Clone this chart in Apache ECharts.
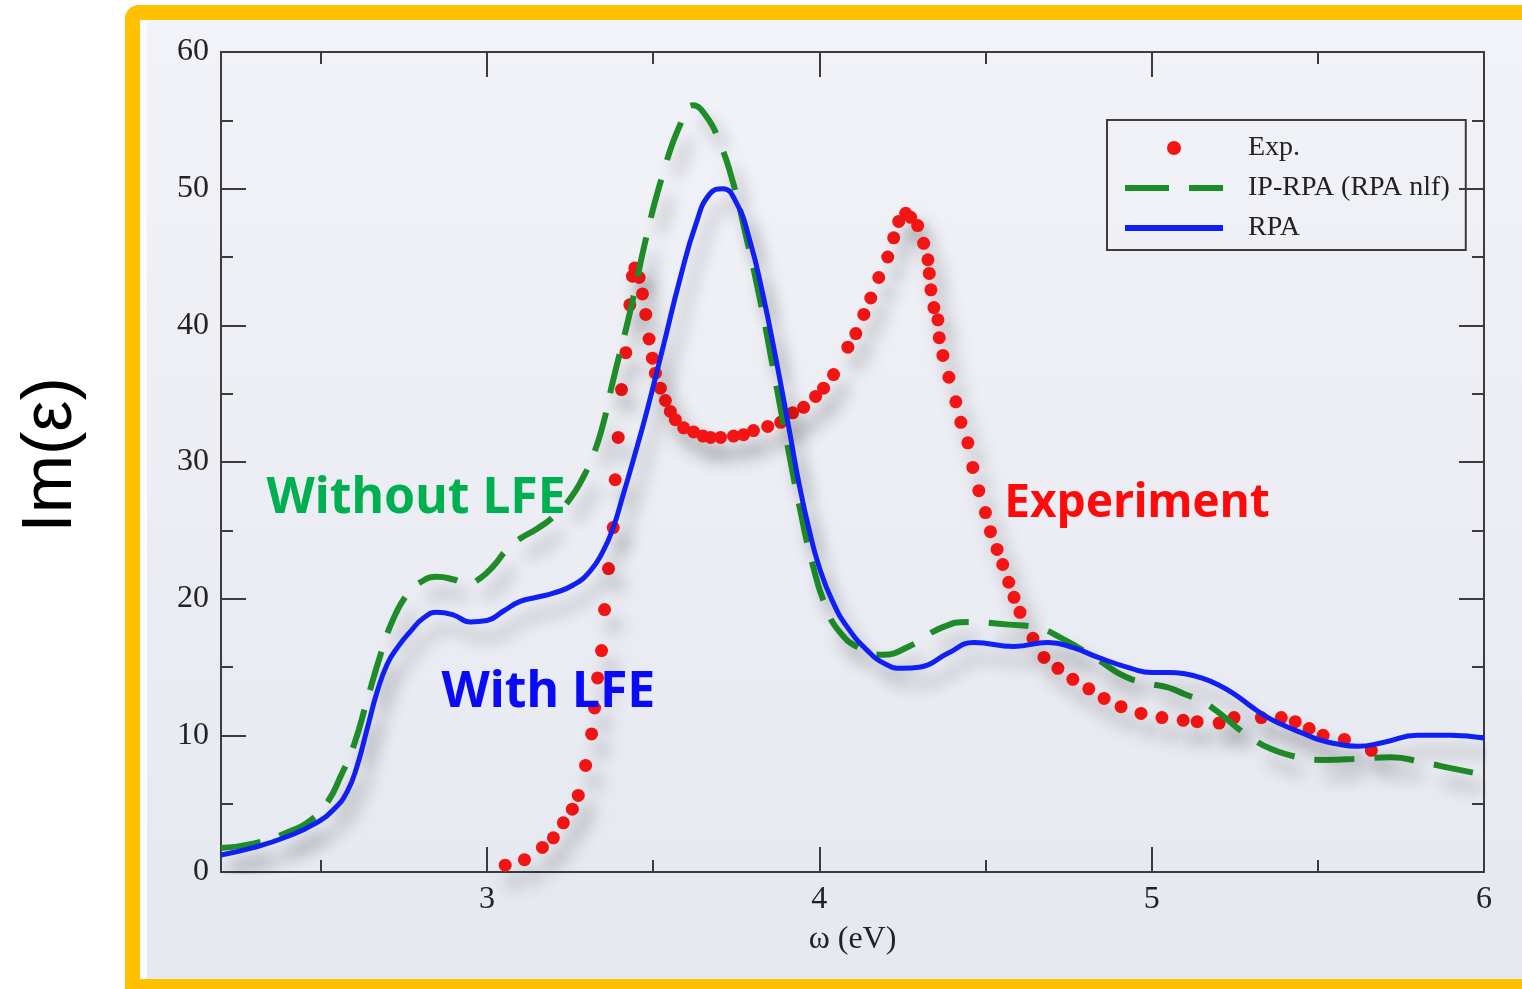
<!DOCTYPE html>
<html>
<head>
<meta charset="utf-8">
<script src="https://cdn.jsdelivr.net/npm/echarts@6.0.0/dist/echarts.min.js"></script>
<style>
  html, body { margin: 0; padding: 0; background: #ffffff; }
  #chart { width: 1522px; height: 989px; }
</style>
</head>
<body>
<div id="chart"></div>
<script>
// Imaginary part of the dielectric function vs photon energy

// RPA (with local-field effects)
const rpaX = [2.20, 2.30, 2.40, 2.48, 2.54, 2.58, 2.61, 2.64, 2.67, 2.70, 2.73, 2.77, 2.81, 2.85, 2.90, 2.95, 3.00, 3.05, 3.10, 3.15, 3.20, 3.26, 3.31, 3.35, 3.38, 3.41, 3.44, 3.48, 3.53, 3.58, 3.63, 3.67, 3.71, 3.75, 3.79, 3.83, 3.87, 3.91, 3.94, 3.97, 4.00, 4.04, 4.085, 4.145, 4.20, 4.25, 4.305, 4.387, 4.465, 4.586, 4.688, 4.766, 4.839, 4.938, 5.00, 5.05, 5.10, 5.15, 5.20, 5.25, 5.30, 5.35, 5.40, 5.45, 5.50, 5.55, 5.62, 5.70, 5.80, 5.90, 6.00];
const rpaY = [1.25, 1.8, 2.6, 3.5, 4.6, 5.9, 7.8, 10.5, 13.2, 15.2, 16.4, 17.6, 18.6, 19.0, 18.8, 18.3, 18.4, 19.1, 19.8, 20.1, 20.4, 21.0, 22.0, 23.5, 25.2, 27.6, 30.1, 33.6, 38.4, 43.3, 47.5, 49.6, 50.0, 49.0, 46.3, 42.3, 37.5, 32.3, 28.3, 25.0, 22.3, 19.8, 17.9, 16.2, 15.2, 14.9, 15.0, 16.0, 16.8, 16.5, 16.8, 16.4, 15.7, 14.9, 14.6, 14.6, 14.5, 14.2, 13.7, 13.0, 12.1, 11.3, 10.7, 10.2, 9.7, 9.4, 9.2, 9.5, 10.0, 10.0, 9.8];

// IP-RPA (no local fields)
const ipX = [2.20, 2.30, 2.40, 2.47, 2.52, 2.56, 2.60, 2.64, 2.68, 2.72, 2.76, 2.80, 2.85, 2.90, 2.94, 2.98, 3.02, 3.06, 3.10, 3.15, 3.20, 3.25, 3.29, 3.32, 3.35, 3.38, 3.43, 3.48, 3.53, 3.58, 3.62, 3.66, 3.70, 3.74, 3.78, 3.82, 3.86, 3.90, 3.94, 3.98, 4.02, 4.06, 4.12, 4.19, 4.27, 4.37, 4.45, 4.57, 4.65, 4.73, 4.84, 4.92, 4.99, 5.05, 5.10, 5.15, 5.20, 5.25, 5.30, 5.36, 5.44, 5.52, 5.63, 5.72, 5.82, 5.90, 6.00];
const ipY = [1.75, 2.1, 2.9, 3.8, 5.1, 7.0, 9.3, 12.6, 15.9, 18.6, 20.3, 21.2, 21.6, 21.4, 21.1, 21.5, 22.4, 23.6, 24.4, 25.1, 26.0, 27.3, 28.9, 30.5, 32.8, 36.0, 40.9, 46.5, 51.1, 54.6, 56.1, 55.3, 53.4, 50.5, 46.5, 42.1, 37.0, 31.8, 26.8, 22.5, 19.4, 17.6, 16.4, 15.9, 16.5, 17.9, 18.3, 18.1, 17.9, 17.1, 15.5, 14.3, 13.8, 13.5, 13.0, 12.5, 11.7, 10.7, 9.8, 9.0, 8.4, 8.2, 8.3, 8.4, 8.0, 7.6, 7.1];

// Experimental spectrum
const expX = [3.055, 3.113, 3.167, 3.200, 3.230, 3.257, 3.275, 3.297, 3.315, 3.324, 3.333, 3.345, 3.354, 3.366, 3.380, 3.386, 3.395, 3.405, 3.418, 3.430, 3.438, 3.445, 3.458, 3.468, 3.478, 3.488, 3.498, 3.507, 3.522, 3.537, 3.552, 3.567, 3.592, 3.622, 3.650, 3.673, 3.703, 3.742, 3.772, 3.802, 3.845, 3.884, 3.920, 3.953, 3.989, 4.013, 4.043, 4.086, 4.110, 4.134, 4.155, 4.179, 4.206, 4.224, 4.239, 4.260, 4.275, 4.296, 4.314, 4.327, 4.331, 4.336, 4.345, 4.357, 4.361, 4.372, 4.390, 4.411, 4.426, 4.447, 4.462, 4.480, 4.500, 4.515, 4.535, 4.552, 4.570, 4.586, 4.604, 4.643, 4.676, 4.718, 4.763, 4.811, 4.857, 4.908, 4.968, 5.031, 5.095, 5.137, 5.203, 5.248, 5.330, 5.390, 5.432, 5.474, 5.516, 5.580, 5.661];
const expY = [0.5, 0.9, 1.8, 2.5, 3.6, 4.6, 5.6, 7.8, 10.1, 12.0, 14.2, 16.2, 19.2, 22.2, 25.2, 28.7, 31.8, 35.3, 38.0, 41.5, 43.6, 44.2, 43.5, 42.3, 40.8, 39.0, 37.6, 36.5, 35.4, 34.5, 33.7, 33.1, 32.5, 32.2, 31.9, 31.8, 31.8, 31.9, 32.0, 32.3, 32.6, 32.9, 33.6, 34.0, 34.8, 35.4, 36.4, 38.4, 39.4, 40.8, 42.0, 43.5, 45.0, 46.4, 47.6, 48.2, 47.9, 47.3, 46.0, 44.8, 43.8, 42.6, 41.3, 40.4, 39.1, 37.8, 36.2, 34.4, 32.9, 31.4, 29.6, 27.9, 26.3, 24.9, 23.6, 22.5, 21.2, 20.1, 19.0, 17.1, 15.7, 14.9, 14.1, 13.4, 12.7, 12.1, 11.6, 11.3, 11.1, 11.0, 10.9, 11.3, 11.3, 11.3, 11.0, 10.5, 10.0, 9.7, 8.9];

// Axis ticks
const xMajorTicks = [3, 4, 5, 6];
const xMinorTicks = [2.5, 3.5, 4.5, 5.5];
const seriesNames = ['Exp.', 'IP-RPA (RPA nlf)', 'RPA'];

// In-plot annotations: [text, x (eV), y, colour, font size]
const notes = [
  ['Without LFE', 2.787, 27.3, '#00B050', 50],
  ['With LFE', 3.185, 13.1, '#0A0AF5', 50],
  ['Experiment', 4.956, 26.9, '#FF0A0A', 46]
];

const zip = (xs, ys) => xs.map((x, i) => [x, ys[i]]);

const AXIS_COLOR = '#3c3c3c';
const SERIF = 'Liberation Serif, Times New Roman, serif';
const RED = '#F41414', GREEN = '#1E8C28', BLUE = '#1020F2';
const shadow = { shadowColor: 'rgba(0,0,0,0.28)', shadowBlur: 16, shadowOffsetX: 9, shadowOffsetY: 16 };
const noShadow = { shadowColor: 'rgba(0,0,0,0)', shadowBlur: 0, shadowOffsetX: 0, shadowOffsetY: 0 };

function xAxisDef(position, ticks, len, withLine, withLabels) {
  return {
    type: 'value', position, min: 2.2, max: 6,
    axisLine: { show: withLine, onZero: false, lineStyle: { color: AXIS_COLOR, width: 2 } },
    axisTick: { show: true, inside: true, length: len, customValues: ticks, lineStyle: { color: AXIS_COLOR, width: 2 } },
    axisLabel: withLabels
      ? { show: true, customValues: ticks, margin: 12, fontFamily: SERIF, fontSize: 32, color: '#222' }
      : { show: false },
    splitLine: { show: false },
    name: withLabels ? 'ω (eV)' : '',
    nameLocation: 'middle', nameGap: 52,
    nameTextStyle: { fontFamily: SERIF, fontSize: 32, color: '#222' }
  };
}

function yAxisDef(position, withLabels) {
  return {
    type: 'value', position, min: 0, max: 60, interval: 10,
    axisLine: { show: true, onZero: false, lineStyle: { color: AXIS_COLOR, width: 2 } },
    axisTick: { show: true, inside: true, length: 25, lineStyle: { color: AXIS_COLOR, width: 2 } },
    minorTick: { show: true, splitNumber: 2, length: 12, lineStyle: { color: AXIS_COLOR, width: 2 } },
    axisLabel: withLabels
      ? { show: true, margin: 12, fontFamily: SERIF, fontSize: 32, color: '#222' }
      : { show: false },
    splitLine: { show: false }
  };
}

const background = [
  { type: 'rect', z: -20, shape: { x: 125, y: 5, width: 1440, height: 1020, r: 14 }, style: { fill: '#FFC000' } },
  { type: 'rect', z: -19, shape: { x: 140, y: 20, width: 1420, height: 959 }, style: { fill: '#FBFBFD' } },
  { type: 'rect', z: -18, shape: { x: 147, y: 21, width: 1420, height: 958 },
    style: { fill: new echarts.graphic.LinearGradient(0, 0, 0, 1, [
      { offset: 0, color: '#F2F3F8' }, { offset: 1, color: '#E6E8F0' }]) } },
  { type: 'text', z: 10, x: 52, y: 455, rotation: Math.PI / 2,
    style: { text: 'Im(ε)', font: '70px "Liberation Sans", Arial, sans-serif', fill: '#000', align: 'center', verticalAlign: 'middle' } }
];

const hiddenMarker = { color: 'rgba(0,0,0,0)', borderWidth: 0, opacity: 0 };

const chart = echarts.init(document.getElementById('chart'), null, { renderer: 'canvas' });

chart.setOption({
  backgroundColor: '#ffffff',
  animation: false,
  grid: { left: 221, right: 38, top: 52, bottom: 117, containLabel: false },
  xAxis: [
    xAxisDef('bottom', xMajorTicks, 25, true, true),
    xAxisDef('bottom', xMinorTicks, 12, false, false),
    xAxisDef('top', xMajorTicks, 25, true, false),
    xAxisDef('top', xMinorTicks, 12, false, false)
  ],
  yAxis: [yAxisDef('left', true), yAxisDef('right', false)],
  legend: {
    data: [
      { name: seriesNames[0], itemStyle: Object.assign({ color: RED, opacity: 1 }, noShadow) },
      { name: seriesNames[1], itemStyle: hiddenMarker,
        lineStyle: Object.assign({ color: GREEN, width: 6, type: [44, 20], opacity: 1 }, noShadow) },
      { name: seriesNames[2], itemStyle: hiddenMarker,
        lineStyle: Object.assign({ color: BLUE, width: 6, type: 'solid', opacity: 1 }, noShadow) }
    ],
    orient: 'vertical', left: 1107, top: 120,
    padding: [14, 16, 8, 15],
    itemWidth: 98, itemHeight: 14, itemGap: 12,
    borderColor: '#3c3c3c', borderWidth: 2,
    textStyle: { fontFamily: SERIF, fontSize: 28, color: '#222', lineHeight: 28, padding: [0, 0, 0, 20] }
  },
  graphic: background,
  series: [
    {
      name: seriesNames[0], type: 'scatter', z: 2,
      data: zip(expX, expY), symbol: 'circle', symbolSize: 13,
      itemStyle: Object.assign({ color: RED, opacity: 1 }, shadow)
    },
    {
      name: seriesNames[1], type: 'line', z: 3,
      data: zip(ipX, ipY), showSymbol: false, symbol: 'none',
      smooth: 0.5,
      itemStyle: { color: GREEN },
      lineStyle: Object.assign({ color: GREEN, width: 6, type: [40, 20], cap: 'butt' }, shadow)
    },
    {
      name: seriesNames[2], type: 'line', z: 4,
      data: zip(rpaX, rpaY), showSymbol: false, symbol: 'none',
      smooth: 0.5,
      itemStyle: { color: BLUE },
      lineStyle: Object.assign({ color: BLUE, width: 5 }, shadow)
    }
  ]
});

// Place annotations at data coordinates
const noteGraphics = notes.map(([text, x, y, color, size]) => {
  const p = chart.convertToPixel({ xAxisIndex: 0, yAxisIndex: 0 }, [x, y]);
  return {
    type: 'text', z: 10, x: p[0], y: p[1],
    style: { text, font: 'bold ' + size + 'px "Noto Sans", "DejaVu Sans", sans-serif', fill: color, align: 'center', verticalAlign: 'middle' }
  };
});
chart.setOption({ graphic: background.concat(noteGraphics) });
</script>
</body>
</html>
